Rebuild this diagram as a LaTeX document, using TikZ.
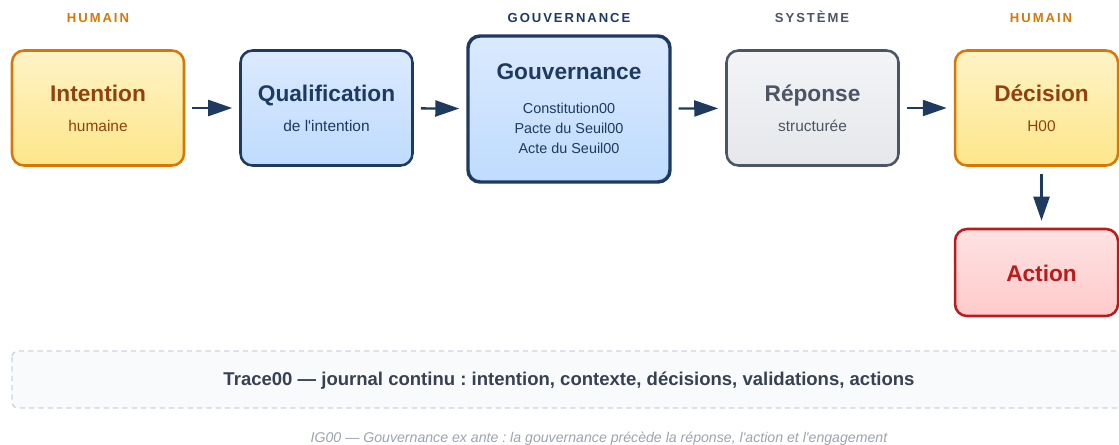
\documentclass[tikz,border=0pt]{standalone}
\usepackage{fontspec}
\setmainfont{Liberation Sans}[Ligatures=TeXOff]
\newfontfamily\tagfam{Liberation Sans}[Ligatures=TeXOff,LetterSpace=15]
\usetikzlibrary{arrows.meta}
\definecolor{amber}{HTML}{D97706}
\definecolor{ambertop}{HTML}{FEF3C7}
\definecolor{amberbot}{HTML}{FDE68A}
\definecolor{brownish}{HTML}{92400E}
\definecolor{navy}{HTML}{1E3A5F}
\definecolor{bluetop}{HTML}{DBEAFE}
\definecolor{bluebot}{HTML}{BFDBFE}
\definecolor{slate}{HTML}{4B5563}
\definecolor{graytop}{HTML}{F3F4F6}
\definecolor{graybot}{HTML}{E5E7EB}
\definecolor{redline}{HTML}{B91C1C}
\definecolor{redtop}{HTML}{FEE2E2}
\definecolor{redbot}{HTML}{FECACA}
\definecolor{tracefill}{HTML}{F8FAFC}
\definecolor{traceline}{HTML}{CBD5E1}
\definecolor{tracetext}{HTML}{374151}
\definecolor{captext}{HTML}{9CA3AF}
\newcommand{\ttl}[1]{{\fontsize{17pt}{22.5pt}\selectfont\bfseries #1}}
\frenchspacing

\begin{document}
\begin{tikzpicture}[x=0.75pt,y=-0.75pt,
    box/.style={draw, rounded corners=9pt, line width=1.9pt, align=center, inner sep=0pt,
        minimum width=129pt, minimum height=86.25pt, font=\fontsize{11.6pt}{22.5pt}\selectfont},
    humain/.style={box, draw=amber, top color=ambertop, bottom color=amberbot, text=brownish},
    qualif/.style={box, draw=navy, top color=bluetop, bottom color=bluebot, text=navy},
    systeme/.style={box, draw=slate, top color=graytop, bottom color=graybot, text=slate},
    flow/.style={draw=navy, line width=1.75pt, -{Triangle[length=18pt,width=12pt]},
        shorten >=5.25pt, shorten <=5.25pt},
    tag/.style={anchor=base, font=\tagfam\bfseries\fontsize{9.8pt}{11pt}\selectfont}]

    \path[use as bounding box] (0,0) rectangle (1119,444);
    \clip (0,0) rectangle (1119,444);

    % column tags
    \node[tag, text=amber] (tag1) at (98,22) {HUMAIN};
    \node[tag, text=navy] (tag2) at (569,22) {GOUVERNANCE};
    \node[tag, text=slate] (tag3) at (812,22) {SYSTÈME};
    \node[tag, text=amber] (tag4) at (1041,22) {HUMAIN};

    % chain
    \node[humain] (intent) at (98,108) {\ttl{Intention}\\ humaine};
    \node[qualif] (qualif) at (326.5,108) {\ttl{Qualification}\\ de l'intention};
    \node[qualif, line width=2.6pt, minimum width=151.5pt, minimum height=109.5pt,
        font=\fontsize{10.8pt}{15pt}\selectfont] (gouv) at (569,109)
        {\ttl{Gouvernance}\\[10.5pt] Constitution00\\ Pacte du Seuil00\\ Acte du Seuil00};
    \node[systeme] (rep) at (812.5,108) {\ttl{Réponse}\\ structurée};
    \node[humain, minimum width=122.25pt] (decis) at (1036.5,108) {};
    \node[align=center, inner sep=0pt, text=brownish, font=\fontsize{11.6pt}{22.5pt}\selectfont]
        (decistxt) at (1041.5,108) {\ttl{Décision}\\ H00};

    % action
    \node[box, draw=redline, top color=redtop, bottom color=redbot,
        minimum width=122.25pt, minimum height=65.25pt] (act) at (1036.5,272.5) {};
    \node[inner sep=0pt, text=redline] (acttxt) at (1041.5,273.5) {\ttl{Action}};

    \draw[flow] (intent) -- (qualif);
    \draw[flow] (qualif) -- (gouv);
    \draw[flow] (gouv) -- (rep);
    \draw[flow] (rep) -- (decis);
    \draw[flow] (decistxt |- decis.south) -- (decistxt |- act.north);

    % trace
    \draw[draw=traceline, fill=tracefill, line width=1.1pt, dash pattern=on 4pt off 3pt,
        rounded corners=4.5pt] (12,351) rectangle (1130,408);
    \node[text=tracetext, font=\bfseries\fontsize{13.9pt}{16pt}\selectfont] (trace) at (569,381)
        {Trace00 — journal continu : intention, contexte, décisions, validations, actions};

    \node[anchor=base, text=captext, font=\itshape\fontsize{10.6pt}{12pt}\selectfont] (caption) at (599,442)
        {IG00 — Gouvernance ex ante : la gouvernance précède la réponse, l'action et l'engagement};
\end{tikzpicture}
\end{document}
